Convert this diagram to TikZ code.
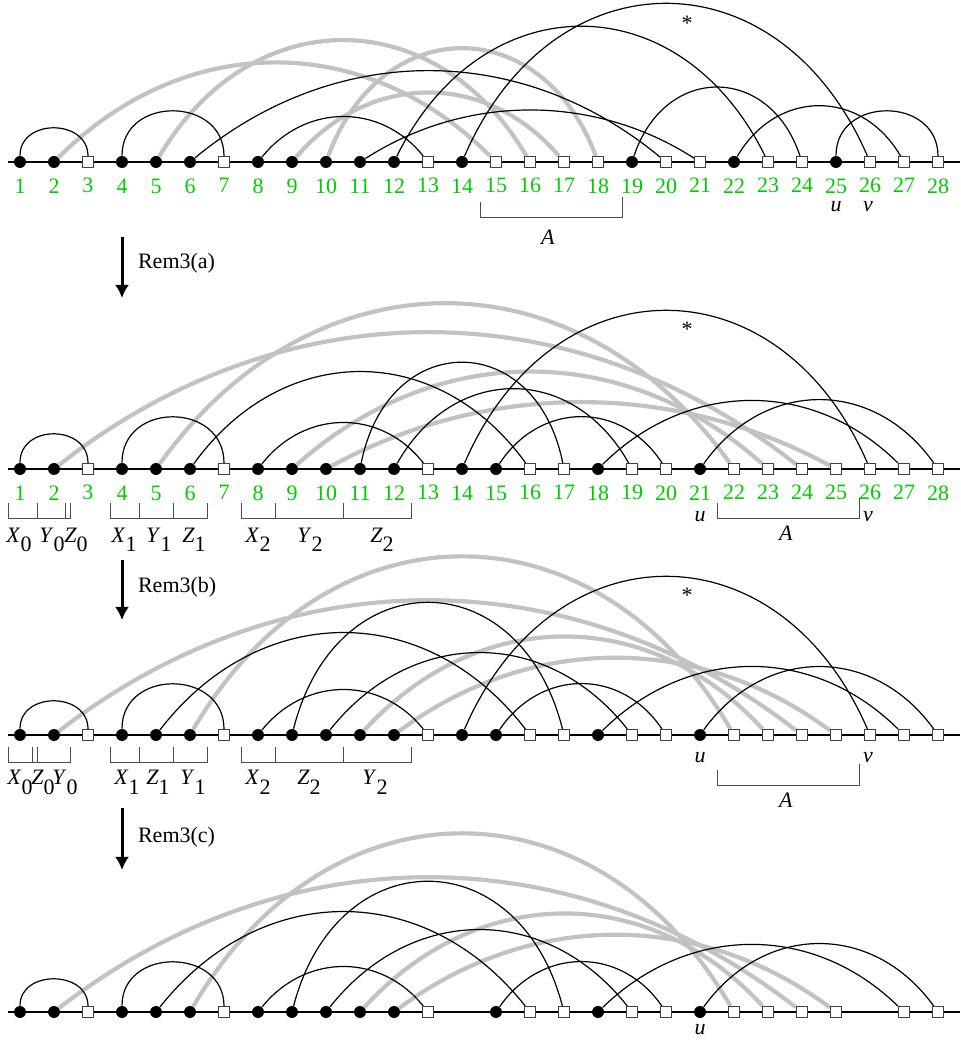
\documentclass[tikz,border=0pt]{standalone}
\usepackage{fontspec}
\setmainfont{Liberation Serif}
\usetikzlibrary{positioning, arrows.meta, backgrounds}

\definecolor{arcgray}{gray}{0.76}
\definecolor{numgreen}{RGB}{0,205,0}

% segment label with a lowered index
\newcommand{\seg}[2]{\textit{#1}\raisebox{-4.5pt}{#2}}

% arcs of one row: prefix, style, list of from/to/height
\newcommand{\linkrow}[3]{%
  \foreach \i/\j/\hh in {#3}{%
    \pgfmathsetmacro\chord{(\j-\i)*34}
    \pgfmathsetmacro\ang{(\j-\i<4) ? 90 : (atan(4*\hh/\chord)+2*atan(2*\hh/\chord))/2}
    \pgfmathsetmacro\inang{180-\ang}
    \pgfmathsetmacro\loose{4*(\hh-6*sin(\ang))/(3*sin(\ang))/(0.3915*(\chord-12*cos(\ang)))}
    \draw[#2] (#1\i) to[out=\ang, in=\inang, looseness=\loose] (#1\j);
  }}

\begin{document}
\begin{tikzpicture}[x=0.5pt, y=0.5pt,
  font=\fontsize{11}{13}\selectfont,
  full vertex/.style={circle, fill=black, inner sep=0pt, minimum size=6pt},
  open vertex/.style={rectangle, draw=black!75, fill=white, line width=0.5pt,
    inner sep=0pt, minimum size=5.5pt},
  num/.style={text=numgreen, inner sep=0pt},
  lbl/.style={anchor=base, inner sep=0pt},
  axis/.style={line width=0.6pt},
  black link/.style={line width=0.6pt},
  gray link/.style={draw=arcgray, line width=2.1pt},
  bracket/.style={draw=black!70, line width=0.5pt},
  rem arrow/.style={line width=1.5pt, -{Latex[length=6.5pt, width=7pt]}}]
\useasboundingbox (0,0) rectangle (961,1041);

% first row
\foreach \k in {1,2,4,5,6,8,9,10,11,12,14,19,22,25}
  \node[full vertex] (a\k) at ({20+34*(\k-1)},879) {};
\foreach \k in {3,7,13,15,16,17,18,20,21,23,24,26,27,28}
  \node[open vertex] (a\k) at ({20+34*(\k-1)},879) {};
\foreach \k in {1,...,28}
  \node[num, below=5pt of a\k] (na\k) {\k};
\node[lbl] (ua) at (836,829) {\textit{u}};
\node[lbl] (va) at (868,829) {\textit{v}};
\node[anchor=north, inner sep=0pt] (sa) at (687,1025) {*};
\draw[bracket] (480,839) -- (480,823) -- (622,823) -- (622,844);
\node[lbl] (Aa) at (548,796) {\textit{A}};

\coordinate (ra) at (122,804);
\coordinate (rb) at (122,743);
\draw[rem arrow] (ra) -- (rb);
\node[anchor=west] (rema) at (131,778) {Rem3(a)};

% second row
\foreach \k in {1,2,4,5,6,8,9,10,11,12,14,15,18,21}
  \node[full vertex] (b\k) at ({20+34*(\k-1)},572) {};
\foreach \k in {3,7,13,16,17,19,20,22,23,24,25,26,27,28}
  \node[open vertex] (b\k) at ({20+34*(\k-1)},572) {};
\foreach \k in {1,...,28}
  \node[num, below=5pt of b\k] (nb\k) {\k};
\node[lbl] (ub) at (700,519) {\textit{u}};
\node[lbl] (vb) at (868,519) {\textit{v}};
\node[anchor=north, inner sep=0pt] (sb) at (687,719) {*};
\draw[bracket] (717,538) -- (717,522) -- (859,522) -- (859,543);
\node[lbl] (Ab) at (786,500) {\textit{A}};

\draw[bracket] (8,538) -- (8,522) -- (70,522) -- (70,538);
\draw[bracket] (37,538) -- (37,522);
\draw[bracket] (65,538) -- (65,522);
\draw[bracket] (110,538) -- (110,522) -- (207,522) -- (207,538);
\draw[bracket] (139,538) -- (139,522);
\draw[bracket] (173,538) -- (173,522);
\draw[bracket] (241,538) -- (241,522) -- (411,522) -- (411,538);
\draw[bracket] (275,538) -- (275,522);
\draw[bracket] (343,538) -- (343,522);
\node[lbl] (xb0) at (19,498) {\seg{X}{0}};
\node[lbl] (yb0) at (52,498) {\seg{Y}{0}};
\node[lbl] (zb0) at (76,498) {\seg{Z}{0}};
\node[lbl] (xb1) at (124,498) {\seg{X}{1}};
\node[lbl] (yb1) at (159,498) {\seg{Y}{1}};
\node[lbl] (zb1) at (194,498) {\seg{Z}{1}};
\node[lbl] (xb2) at (258,498) {\seg{X}{2}};
\node[lbl] (yb2) at (310,498) {\seg{Y}{2}};
\node[lbl] (zb2) at (382,498) {\seg{Z}{2}};

\coordinate (rc) at (122,481);
\coordinate (rd) at (122,421);
\draw[rem arrow] (rc) -- (rd);
\node[anchor=west] (remb) at (131,454) {Rem3(b)};

% third row
\foreach \k in {1,2,4,5,6,8,9,10,11,12,14,15,18,21}
  \node[full vertex] (c\k) at ({20+34*(\k-1)},306) {};
\foreach \k in {3,7,13,16,17,19,20,22,23,24,25,26,27,28}
  \node[open vertex] (c\k) at ({20+34*(\k-1)},306) {};
\node[lbl] (uc) at (700,278) {\textit{u}};
\node[lbl] (vc) at (868,278) {\textit{v}};
\node[anchor=north, inner sep=0pt] (sc) at (687,453) {*};
\draw[bracket] (717,271) -- (717,255) -- (859,255) -- (859,277);
\node[lbl] (Ac) at (786,233) {\textit{A}};

\draw[bracket] (8,294) -- (8,278) -- (70,278) -- (70,294);
\draw[bracket] (32,294) -- (32,278);
\draw[bracket] (37,294) -- (37,278);
\draw[bracket] (110,294) -- (110,278) -- (207,278) -- (207,294);
\draw[bracket] (139,294) -- (139,278);
\draw[bracket] (173,294) -- (173,278);
\draw[bracket] (241,294) -- (241,278) -- (411,278) -- (411,294);
\draw[bracket] (275,294) -- (275,278);
\draw[bracket] (343,294) -- (343,278);
\node[lbl] (xc0) at (20,256) {\seg{X}{0}};
\node[lbl] (zc0) at (43,256) {\seg{Z}{0}};
\node[lbl] (yc0) at (65,256) {\seg{Y}{0}};
\node[lbl] (xc1) at (127,256) {\seg{X}{1}};
\node[lbl] (zc1) at (158,256) {\seg{Z}{1}};
\node[lbl] (yc1) at (193,256) {\seg{Y}{1}};
\node[lbl] (xc2) at (258,256) {\seg{X}{2}};
\node[lbl] (zc2) at (309,256) {\seg{Z}{2}};
\node[lbl] (yc2) at (375,256) {\seg{Y}{2}};

\coordinate (re) at (122,233);
\coordinate (rf) at (122,171);
\draw[rem arrow] (re) -- (rf);
\node[anchor=west] (remc) at (131,204) {Rem3(c)};

% fourth row
\foreach \k in {1,2,4,5,6,8,9,10,11,12,15,18,21}
  \node[full vertex] (d\k) at ({20+34*(\k-1)},29) {};
\foreach \k in {3,7,13,16,17,19,20,22,23,24,25,27,28}
  \node[open vertex] (d\k) at ({20+34*(\k-1)},29) {};
\node[lbl] (ud) at (700,6) {\textit{u}};

% base lines and arcs
\begin{scope}[on background layer]
  \draw[axis] (8,879) -- (960,879);
  \draw[axis] (8,572) -- (960,572);
  \draw[axis] (8,306) -- (960,306);
  \draw[axis] (8,29) -- (960,29);

  \linkrow{a}{gray link}{2/15/99, 5/16/122, 9/17/69, 10/18/114}
  \linkrow{a}{black link}{1/3/34, 4/7/51, 6/20/91, 8/13/45, 11/21/52,
    12/23/136, 14/26/159, 19/24/75, 22/27/56, 25/28/51}

  \linkrow{b}{gray link}{2/24/137, 5/22/166, 9/23/97, 10/25/67}
  \linkrow{b}{black link}{1/3/35, 4/7/52, 6/16/97, 8/13/46, 11/17/107,
    12/19/80, 14/26/159, 15/20/52, 18/27/68, 21/28/69}

  \linkrow{c}{gray link}{2/24/135, 6/22/179, 11/23/98, 12/25/77}
  \linkrow{c}{black link}{1/3/34, 4/7/51, 5/16/102, 8/13/45, 9/17/133,
    10/19/82, 14/26/159, 15/20/51, 18/27/68, 21/28/68}

  \linkrow{d}{gray link}{2/24/135, 6/22/179, 11/23/98, 12/25/77}
  \linkrow{d}{black link}{1/3/33, 4/7/50, 5/16/100, 8/13/45, 9/17/131,
    10/19/82, 15/20/50, 18/27/67, 21/28/68}
\end{scope}
\end{tikzpicture}
\end{document}
